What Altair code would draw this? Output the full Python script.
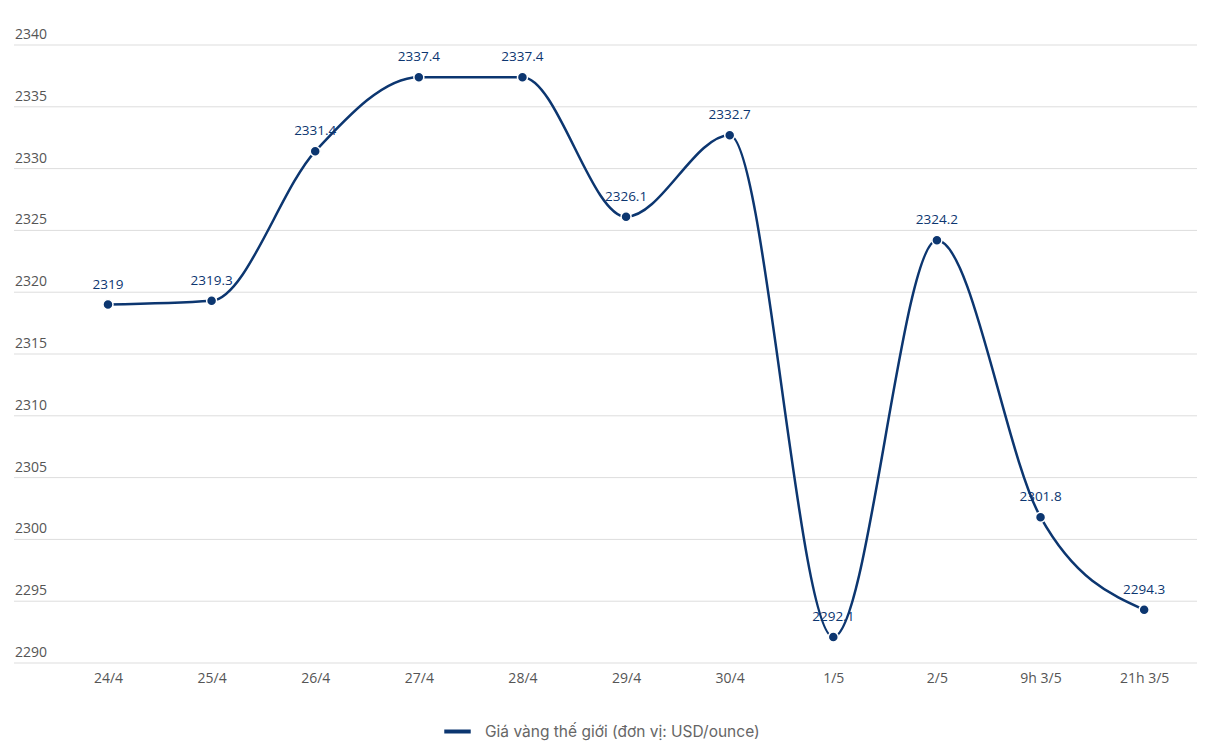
import altair as alt
import pandas as pd

categories = ["24/4", "25/4", "26/4", "27/4", "28/4", "29/4", "30/4", "1/5", "2/5", "9h 3/5", "21h 3/5"]
values = [2319, 2319.3, 2331.4, 2337.4, 2337.4, 2326.1, 2332.7, 2292.1, 2324.2, 2301.8, 2294.3]
labels = ["2319", "2319.3", "2331.4", "2337.4", "2337.4", "2326.1", "2332.7", "2292.1", "2324.2", "2301.8", "2294.3"]
series_name = "Giá vàng thế giới (đơn vị: USD/ounce)"
y_ticks = [2290, 2295, 2300, 2305, 2310, 2315, 2320, 2325, 2330, 2335, 2340]

df = pd.DataFrame({"idx": list(range(len(categories))), "cat": categories,
                   "val": values, "lab": labels, "series": series_name})
grid_df = pd.DataFrame({"val": y_ticks, "lab": [str(v) for v in y_ticks]})

NAVY = "#0c3670"
FONT = "Open Sans"
W, H = 1183, 618

cat_array = "[" + ",".join("'" + c + "'" for c in categories) + "]"

x = alt.X("idx:Q", title=None,
          scale=alt.Scale(domain=[-0.907, 10.51], nice=False, zero=False),
          axis=alt.Axis(values=list(range(len(categories))), labelExpr=cat_array + "[datum.value]",
                        ticks=False, domain=False, grid=False, labelFlush=False,
                        labelFont=FONT, labelFontSize=14, labelColor="#555555",
                        labelPadding=8))
yscale = alt.Scale(domain=[2290, 2340], nice=False, zero=False)
y = alt.Y("val:Q", title=None, scale=yscale, axis=None)

grid = alt.Chart(grid_df).mark_rule(color="#dddddd", strokeWidth=1).encode(
    y=alt.Y("val:Q", scale=yscale, axis=None), x=alt.value(0), x2=alt.value(W))
ylabels = alt.Chart(grid_df).mark_text(align="left", baseline="bottom", dy=-3, dx=1,
                                       font=FONT, fontSize=14, color="#555555").encode(
    y=alt.Y("val:Q", scale=yscale, axis=None), x=alt.value(0), text="lab:N")

base = alt.Chart(df)

line = base.mark_line(interpolate="monotone", strokeWidth=2.5).encode(
    x=x, y=y,
    color=alt.Color("series:N", scale=alt.Scale(range=[NAVY]), title=None,
                    legend=alt.Legend(orient="none", legendX=428, legendY=671,
                                      symbolType="stroke", symbolStrokeWidth=4,
                                      symbolSize=700, labelFont="Inter",
                                      labelFontSize=15.5, labelColor="#666666",
                                      labelLimit=600, labelOffset=12))
)
points = base.mark_point(filled=True, size=100, opacity=1, stroke="white",
                         strokeWidth=1.5, color=NAVY).encode(x=x, y=y)
text = base.mark_text(dy=-13, baseline="bottom", font=FONT, fontSize=13.5,
                      color=NAVY).encode(x=x, y=y, text="lab:N")

chart = alt.layer(grid, ylabels, line, points, text).properties(
    width=W, height=H,
    background="white",
    padding={"left": 6, "top": 37, "right": 0, "bottom": 82},
    autosize=alt.AutoSizeParams(type="none"),
).configure_view(strokeWidth=0, stroke="transparent")

chart.save("out.html", embed_options={"renderer": "svg", "actions": False})
